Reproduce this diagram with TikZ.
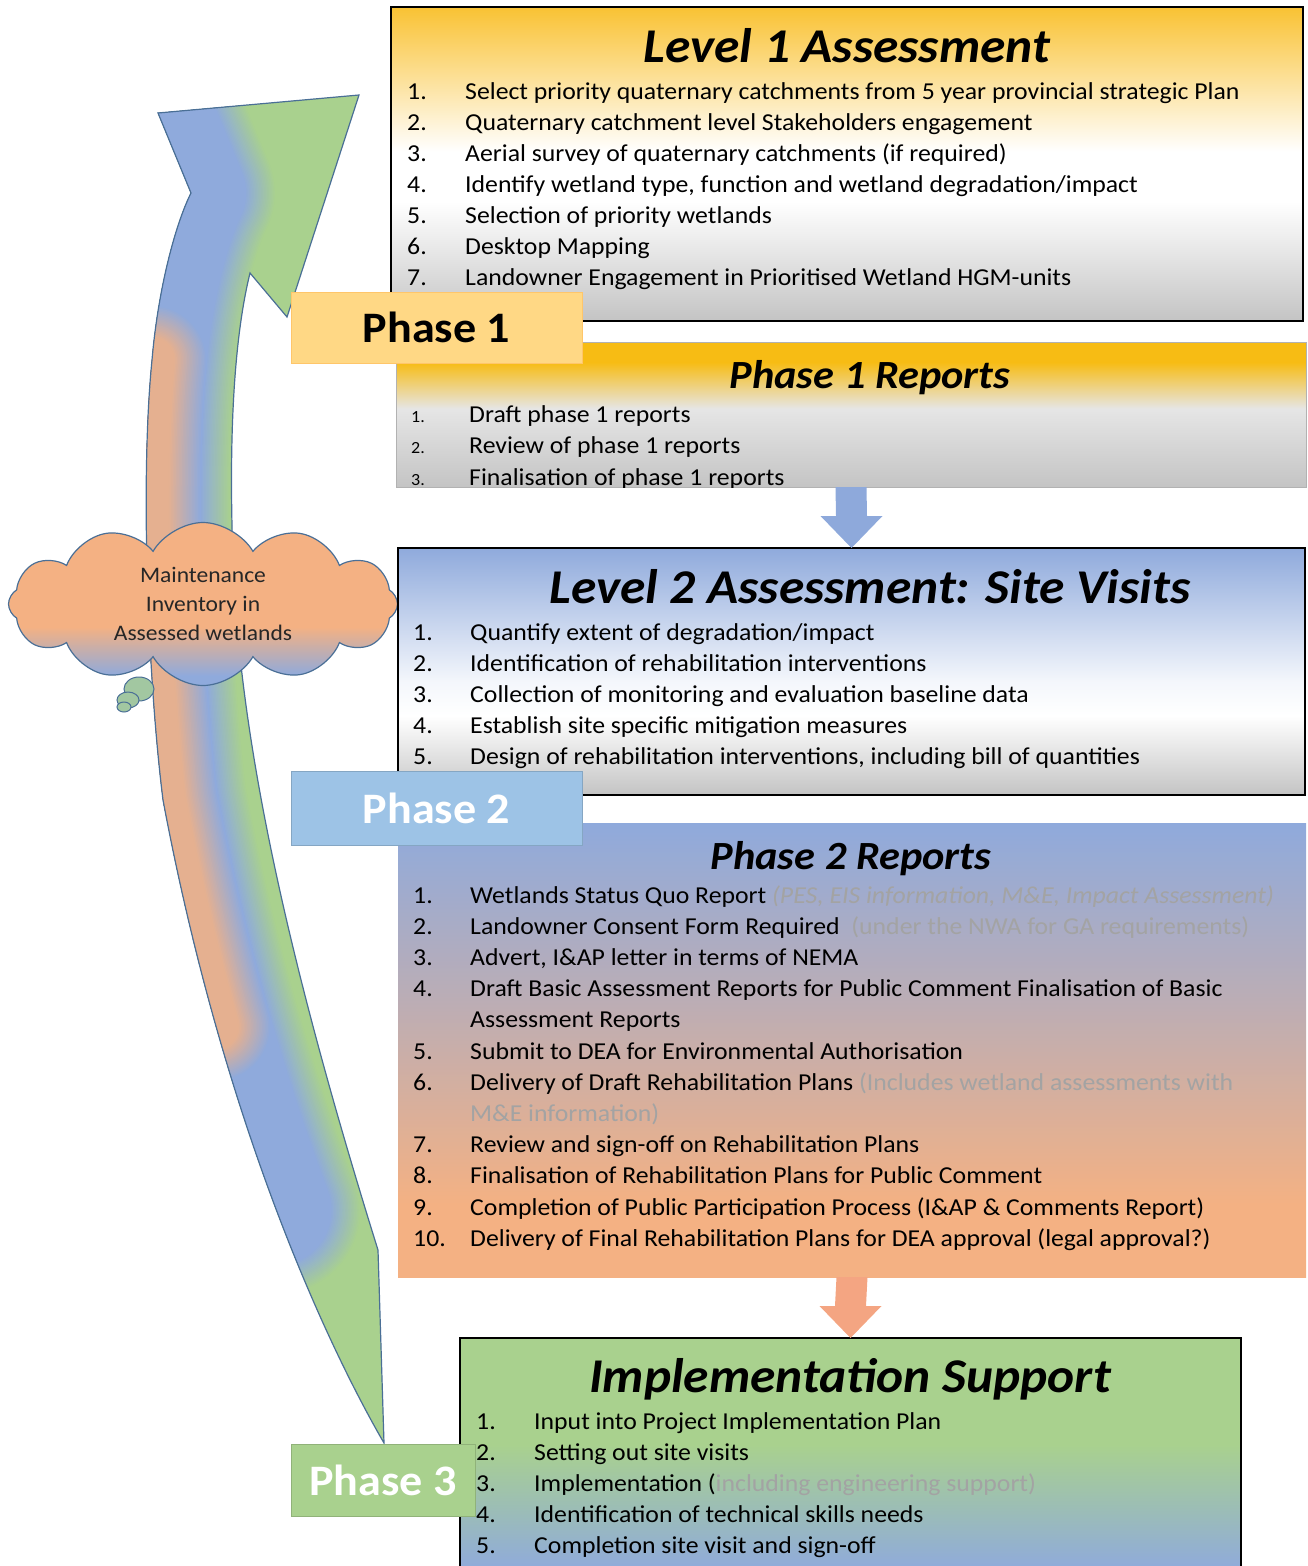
\documentclass[tikz,border=0pt]{standalone}
\usepackage{fontspec}
\setmainfont{Carlito}[FakeStretch=1.06]
\usetikzlibrary{shapes.symbols}
\usetikzlibrary{calc}

\definecolor{gold}{HTML}{F9C233}
\definecolor{golddeep}{HTML}{F7BC14}
\definecolor{boxgrey}{HTML}{C4C4C4}
\definecolor{cblue}{HTML}{8FAADC}
\definecolor{csalmon}{HTML}{F4B183}
\definecolor{cgreen}{HTML}{A9D18E}
\definecolor{phaseone}{HTML}{FFD885}
\definecolor{phasetwo}{HTML}{9DC3E6}
\definecolor{edgeblue}{HTML}{4A6F96}
\definecolor{txtgrey}{HTML}{A3A3A3}
\definecolor{arrblue}{HTML}{8EA9DB}
\definecolor{arrorange}{HTML}{F4A582}

\pgfdeclareverticalshading{lvlone}{100bp}{color(0bp)=(boxgrey); color(25bp)=(boxgrey); color(44bp)=(white); color(52bp)=(white); color(75bp)=(gold); color(100bp)=(gold)}
\pgfdeclareverticalshading{repone}{100bp}{color(0bp)=(boxgrey); color(25bp)=(boxgrey); color(52bp)=(gray!20); color(68bp)=(golddeep); color(100bp)=(golddeep)}
\pgfdeclareverticalshading{lvltwo}{100bp}{color(0bp)=(boxgrey); color(25bp)=(boxgrey); color(41bp)=(white); color(48bp)=(white!90!cblue); color(75bp)=(cblue); color(100bp)=(cblue)}
\pgfdeclareverticalshading{reptwo}{100bp}{color(0bp)=(csalmon); color(33bp)=(csalmon); color(55bp)=(cblue!55!csalmon); color(75bp)=(cblue); color(100bp)=(cblue)}
\pgfdeclareverticalshading{implsh}{100bp}{color(0bp)=(cblue); color(27bp)=(cblue); color(53bp)=(cgreen); color(100bp)=(cgreen)}
\pgfdeclareverticalshading{cloudsh}{100bp}{color(0bp)=(cblue); color(28bp)=(cblue); color(43bp)=(csalmon); color(100bp)=(csalmon)}

% outline of the big curved arrow and its left flank
\newcommand\arrowoutline{(191,193) -- (158,113) -- (359,95) -- (287,317) -- (250,273)
      .. controls (236,330) and (228,420) .. (233,560)
      .. controls (240,760) and (300,1000) .. (378,1250)
      -- (384,1443)
      .. controls (330,1350) and (225,1130) .. (163,800)
      .. controls (148,680) and (140,480) .. (152,360)
      .. controls (158,290) and (175,225) .. cycle}
\newcommand\leftflank{(276.5,1210.4)
      .. controls (235.75,1102.5) and (194,965) .. (163,800)
      .. controls (148,680) and (140,480) .. (152,360)
      .. controls (158,290) and (175,225) .. (191,193) -- (158,113)}
\newcommand\salmonflank{(216.1,1026.6)
      .. controls (196.7,958.1) and (178.5,882.5) .. (163,800)
      .. controls (148,680) and (140,480) .. (152,360)}

\newcommand\blockarrow[3]{%
  \fill[#3] ($(#1.south)+(-15.5,0)$) -- ($(#1.south)+(15.5,0)$)
    -- ($(#2.north)+(15.5,-32)$) -- ($(#2.north)+(31,-32)$) -- (#2.north)
    -- ($(#2.north)+(-31,-32)$) -- ($(#2.north)+(-15.5,-32)$) -- cycle;}

\begin{document}
\begin{tikzpicture}[x=1pt,y=-1pt]
    \tikzstyle{box} = [rectangle,inner sep=0pt,outer sep=0pt,shade]
    \tikzstyle{phase} = [rectangle,inner sep=0pt,font=\fontsize{43.5}{43.5}\selectfont\bfseries]
    \tikzstyle{ttl} = [anchor=base,inner sep=0pt,font=\fontsize{48.5}{48.5}\selectfont\bfseries\itshape]
    \tikzstyle{subttl} = [anchor=base,inner sep=0pt,font=\fontsize{40}{40}\selectfont\bfseries\itshape]
    \tikzstyle{item} = [anchor=base west,inner sep=0pt,font=\fontsize{24.3}{24.3}\selectfont]
    \tikzstyle{num} = [anchor=base west,inner sep=0pt,font=\fontsize{24.3}{24.3}\selectfont]
    \tikzstyle{bubble} = [draw=edgeblue,line width=1pt,fill=cgreen!75!cblue]
    \useasboundingbox (0,0) rectangle (1308,1566);
    %% curved arrow on the left
    \begin{scope}
      \clip \arrowoutline;
      \fill[cgreen] (100,80) rectangle (400,1450);
      \foreach \k in {0,...,20} {
        \pgfmathtruncatemacro\w{170-3*\k}\pgfmathtruncatemacro\p{5*\k}
        \draw[line width=\w pt,line cap=round,line join=round,color=cblue!\p!cgreen] \leftflank;
      }
      \foreach \k in {0,...,30} {
        \pgfmathtruncatemacro\w{110-3*\k}\pgfmathtruncatemacro\p{min(85,4*\k)}
        \draw[line width=\w pt,line cap=round,color=csalmon!\p!cblue] \salmonflank;
      }
    \end{scope}
    \draw[edgeblue,line width=1.2pt,line join=miter] \arrowoutline;
    %% thought cloud
    \node[cloud,cloud puffs=12,cloud puff arc=120,cloud ignores aspect,
          minimum width=389pt,minimum height=163pt,inner sep=0pt,
          draw=edgeblue,line width=1.2pt,shade,shading=cloudsh,
          align=center,text=black!85,font=\fontsize{22.2}{29}\selectfont]
          (cld) at (203,604) {Maintenance\\Inventory in\\Assessed wetlands};
    \draw[bubble] (139,689) ellipse (15 and 12);
    \draw[bubble] (128,700) ellipse (11 and 8);
    \draw[bubble] (124,707) ellipse (7 and 5);
    %% boxes
    \node[box,shading=lvlone,draw=black,line width=1.5pt,minimum width=912pt,minimum height=314pt] (lvl1) at (847,164) {};
    \node[box,shading=repone,draw=gray!60,line width=0.6pt,minimum width=910pt,minimum height=145pt] (rep1) at (851,414.5) {};
    \node[box,shading=lvltwo,draw=black,line width=1.5pt,minimum width=907pt,minimum height=247pt] (lvl2) at (851.5,671.5) {};
    \node[box,shading=reptwo,minimum width=908pt,minimum height=454pt] (rep2) at (852,1050) {};
    \node[box,shading=implsh,draw=black,line width=1.5pt,minimum width=781pt,minimum height=242pt] (impl) at (850.5,1459) {};
    \blockarrow{rep1}{lvl2}{arrblue}
    \blockarrow{rep2}{impl}{arrorange}
    %% Level 1
    \node[ttl] (t1) at (847,62) {Level 1 Assessment};
    \foreach \t [count=\i] in {{Select priority quaternary catchments from 5 year provincial strategic Plan},
        {Quaternary catchment level Stakeholders engagement},
        {Aerial survey of quaternary catchments (if required)},
        {Identify wetland type, function and wetland degradation/impact},
        {Selection of priority wetlands},
        {Desktop Mapping},
        {Landowner Engagement in Prioritised Wetland HGM-units}}
    {
      \node[num] (a\i) at (407,{99+31*(\i-1)}) {\i.};
      \node[item] (at\i) at (465,{99+31*(\i-1)}) {\t};
    }
    %% Phase 1 reports
    \node[subttl] (t2) at (870,388) {Phase 1 Reports};
    \begin{scope}
      \clip (396,342) rectangle (1306,487);
      \foreach \t [count=\i] in {{Draft phase 1 reports},{Review of phase 1 reports},{Finalisation of phase 1 reports}}
      {
        \node[num,font=\fontsize{17}{17}\selectfont] (b\i) at (411,{422+31.5*(\i-1)}) {\i.};
        \node[item] (bt\i) at (469,{422+31.5*(\i-1)}) {\t};
      }
    \end{scope}
    %% Level 2
    \node[ttl] (t3) at (870,603) {Level 2 Assessment: Site Visits};
    \foreach \t [count=\i] in {{Quantify extent of degradation/impact},
        {Identification of rehabilitation interventions},
        {Collection of monitoring and evaluation baseline data},
        {Establish site specific mitigation measures},
        {Design of rehabilitation interventions, including bill of quantities}}
    {
      \node[num] (c\i) at (413,{640+31*(\i-1)}) {\i.};
      \node[item] (ct\i) at (470,{640+31*(\i-1)}) {\t};
    }
    %% Phase 2 reports
    \node[subttl] (t4) at (851,869) {Phase 2 Reports};
    \foreach \n/\t [count=\i] in {1./{Wetlands Status Quo Report \textcolor{txtgrey}{\itshape(PES, EIS information, M\&E, Impact Assessment)}},
        2./{Landowner Consent Form Required~ \textcolor{txtgrey}{(under the NWA for GA requirements)}},
        3./{Advert, I\&AP letter in terms of NEMA},
        4./{Draft Basic Assessment Reports for Public Comment Finalisation of Basic},
        {}/{Assessment Reports},
        5./{Submit to DEA for Environmental Authorisation},
        6./{Delivery of Draft Rehabilitation Plans \textcolor{txtgrey}{(Includes wetland assessments with}},
        {}/{\textcolor{txtgrey}{M\&E information)}},
        7./{Review and sign-off on Rehabilitation Plans},
        8./{Finalisation of Rehabilitation Plans for Public Comment},
        9./{Completion of Public Participation Process (I\&AP \& Comments Report)},
        10./{Delivery of Final Rehabilitation Plans for DEA approval (legal approval?)}}
    {
      \node[num] (d\i) at (413,{903+31.2*(\i-1)}) {\n};
      \node[item] (dt\i) at (470,{903+31.2*(\i-1)}) {\t};
    }
    %% Implementation
    \node[ttl] (t5) at (850,1392) {Implementation Support};
    \foreach \t [count=\i] in {{Input into Project Implementation Plan},
        {Setting out site visits},
        {Implementation (\textcolor{txtgrey}{including engineering support)}},
        {Identification of technical skills needs},
        {Completion site visit and sign-off}}
    {
      \node[num] (e\i) at (476,{1429+31*(\i-1)}) {\i.};
      \node[item] (et\i) at (534,{1429+31*(\i-1)}) {\t};
    }
    %% phase labels
    \node[phase,fill=phaseone,draw=phaseone!80!orange,line width=0.5pt,minimum width=291pt,minimum height=71pt] (ph1) at (436.5,327.5) {Phase 1};
    \node[phase,fill=phasetwo,draw=phasetwo!85!black,line width=0.5pt,text=white,minimum width=291pt,minimum height=74pt] (ph2) at (436.5,808) {Phase 2};
    \node[phase,fill=cgreen,draw=cgreen!85!black,line width=0.5pt,text=white,minimum width=184pt,minimum height=72pt] (ph3) at (383,1480) {Phase 3};
  \end{tikzpicture}
\end{document}
